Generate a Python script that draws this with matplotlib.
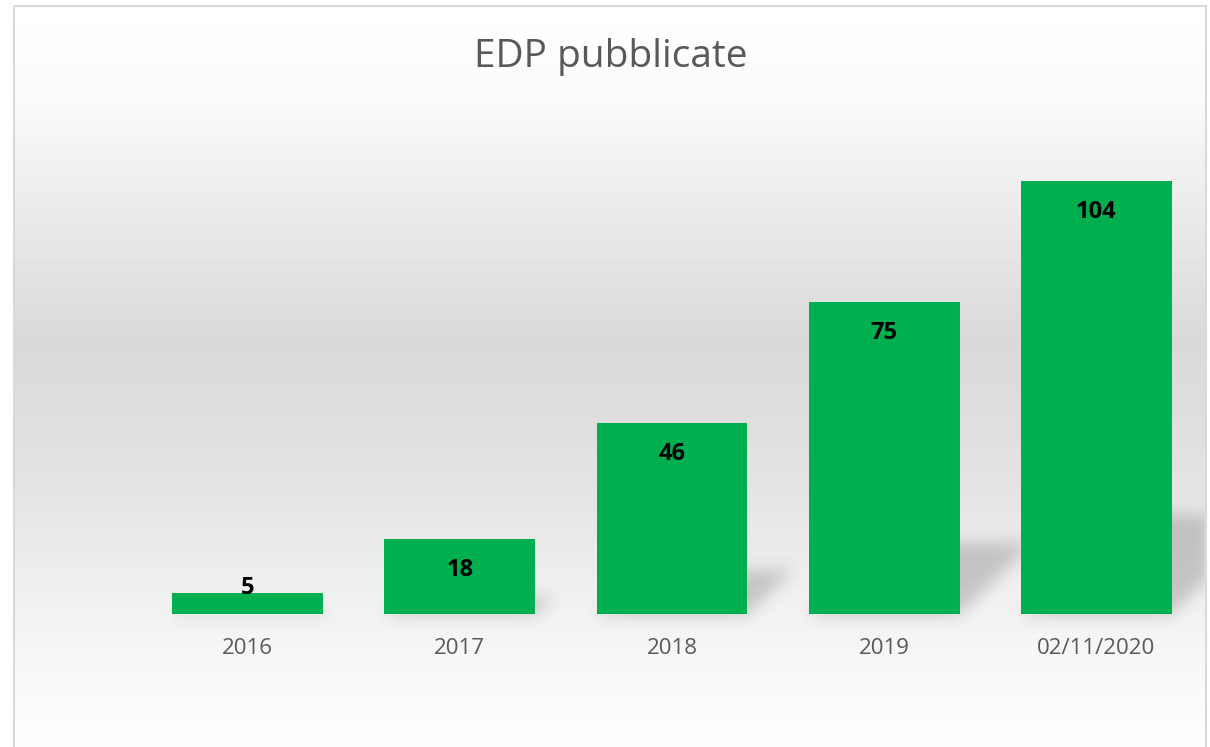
import numpy as np
import matplotlib
matplotlib.use('Agg')
import matplotlib.pyplot as plt
from matplotlib.patches import Rectangle

# data
categories = ['2016', '2017', '2018', '2019', '02/11/2020']
edp_count = [5, 18, 46, 75, 104]

plt.rcParams['font.family'] = ['Open Sans', 'DejaVu Sans']

W, H = 1210, 747
fig = plt.figure(figsize=(W / 100, H / 100), dpi=100)

# background axes in pixel coords (y down), grey gradient like the excel style
bg = fig.add_axes([0, 0, 1, 1])
bg.set_xlim(0, W)
bg.set_ylim(H, 0)
bg.axis('off')
stops_y = [6, 100, 200, 340, 470, 560, 650, 747]
stops_g = [255, 250, 236, 217, 226, 236, 246, 254]
col = np.interp(np.arange(H), stops_y, stops_g) / 255
grad = np.repeat(col[:, None], W, axis=1)
grad[:6, :] = 1
grad[:, :14] = 1
grad[:, 1206:] = 1
bg.imshow(grad, cmap='gray', vmin=0, vmax=1, extent=(0, W, H, 0),
          aspect='auto', interpolation='nearest', zorder=0)
bg.add_patch(Rectangle((14, 6), 1192, 760, fill=False, edgecolor='#D9D9D9',
                       lw=1.5, zorder=5))

# main chart
ax = fig.add_axes([141.5 / W, (H - 614) / H, 1061 / W, 464 / H])
ax.patch.set_alpha(0)
x = np.arange(len(categories))
bars = ax.bar(x, edp_count, width=0.71, color='#00B050', zorder=3)
ax.set_xlim(-0.5, len(categories) - 0.5)
ax.set_ylim(0, 111.5)
for s in ax.spines.values():
    s.set_visible(False)
ax.set_yticks([])
ax.set_xticks(x, categories)
ax.tick_params(axis='x', length=0, pad=17, labelsize=16, labelcolor='#595959')

# pixels per data unit on y
ppu = 464 / 111.5

# value labels, inside end, kept above the axis for short bars
for xi, v in zip(x, edp_count):
    ypx = max(v * ppu - 31, 26)
    ax.text(xi, ypx / ppu, str(v), ha='center', va='center', fontsize=17,
            fontweight='bold', color='black', zorder=4)

# perspective shadow behind the bars (slanted 45 deg, blurred)
yy, xx = np.mgrid[0:H, 0:W]
mask = np.zeros((H, W))
for b, v in zip(bars, edp_count):
    (x0, y0), (x1, y1) = ax.transData.transform(
        [(b.get_x(), 0), (b.get_x() + b.get_width(), v)])
    base = H - y0
    hs = 0.23 * (y1 - y0)
    up = base - yy
    inside = (up >= 0) & (up <= hs) & (xx >= x0 + up) & (xx <= x1 + up)
    mask[inside] = 1


def box_blur(a, r):
    k = np.ones(2 * r + 1) / (2 * r + 1)
    a = np.apply_along_axis(lambda m: np.convolve(m, k, mode='same'), 0, a)
    a = np.apply_along_axis(lambda m: np.convolve(m, k, mode='same'), 1, a)
    return a


for _ in range(3):
    mask = box_blur(mask, 7)
mask[:, 1205:] = 0
shadow = np.zeros((H, W, 4))
shadow[..., :3] = 0.25
shadow[..., 3] = mask * 0.24
bg.imshow(shadow, extent=(0, W, H, 0), aspect='auto', zorder=1)

fig.text(610.5 / W, 1 - 67 / H, 'EDP pubblicate', ha='center', va='baseline',
         fontsize=28, color='#595959')

fig.savefig('out.png', dpi=100)
